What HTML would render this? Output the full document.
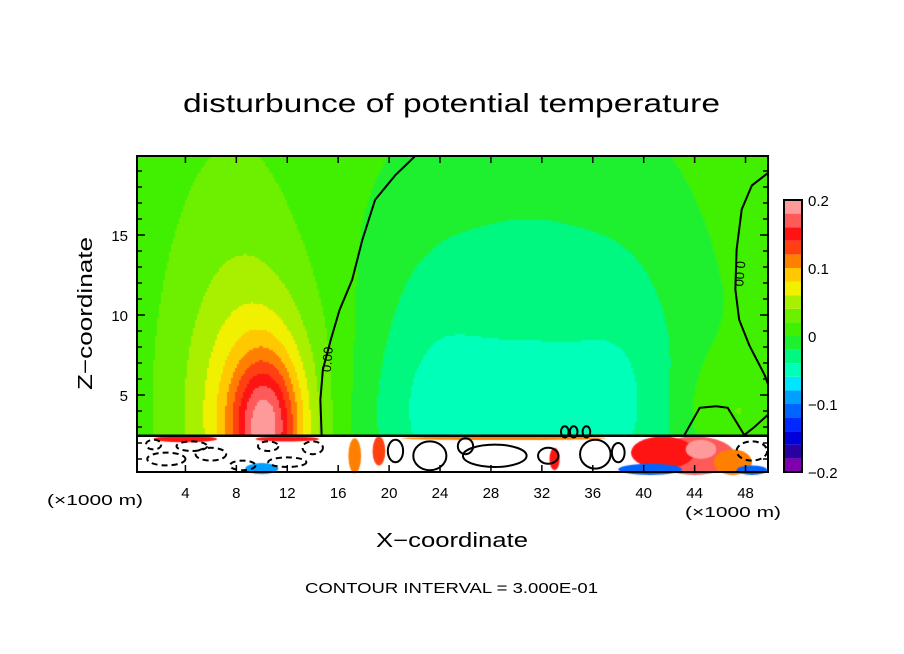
<!DOCTYPE html>
<html><head><meta charset="utf-8"><style>
html,body{margin:0;padding:0;background:#fff;width:904px;height:654px;overflow:hidden}
#wrap{position:relative;width:904px;height:654px}
canvas,svg{position:absolute;left:0;top:0}
text{font-family:"Liberation Sans",sans-serif;fill:#000}
</style></head><body>
<div id="wrap">
<canvas id="cv" width="904" height="654"></canvas>
<svg id="sv" width="904" height="654"></svg>
</div>
<script>
// ---- data ----
const levels = [-0.2,-0.18,-0.16,-0.14,-0.12,-0.1,-0.08,-0.06,-0.04,-0.02,0,0.02,0.04,0.06,0.08,0.1,0.12,0.14,0.16,0.18,0.2];
const levelColors = ["#8000b0","#2a00a0","#0000d8","#0028ff","#0064ff","#00a0ff","#00e6ff","#00ffb8","#00f880","#1ef030","#40f000","#6cf000","#a8f000","#f0f000","#ffc800","#ff8000","#ff4010","#ff1414","#ff5a5a","#ff9a9a"];
const colorbarLabels = ["0.2","0.1","0","\u22120.1","\u22120.2"];
const colorbarLabelValues = [0.2,0.1,0,-0.1,-0.2];
const baseline = 0.01;
// blobs: [x(km), z(km), amplitude, sx, sz]
const blobX = [10.3, 9.8, 8, 31, 23, 39, 29, 46.5];
const blobZ = [3, 3, 10, 6, 6, 6, 3, 4];
const blobAmp = [0.11, 0.07, 0.02, -0.045, -0.015, -0.015, -0.018, 0.022];
const blobSX = [1.8, 3.8, 4, 9, 3, 3, 9, 2.8];
const blobSZ = [3, 6, 9, 11, 6, 6, 3.5, 2.5];
const groundZ = 2.45;
// below-ground patches: [x, z, value, rx, rz]
const patchX = [44, 41.5, 47, 40.5, 10, 17.3, 19.2, 33, 4, 44.5, 48.5, 29, 12];
const patchZ = [1.2, 1.4, 0.8, 0.35, 0.4, 1.2, 1.5, 1.0, 2.25, 1.6, 0.3, 2.3, 2.25];
const patchV = [0.17, 0.14, 0.1, -0.12, -0.1, 0.1, 0.12, 0.15, 0.15, 0.19, -0.12, 0.1, 0.15];
const patchRX = [3.2, 2.5, 1.5, 2.5, 1.3, 0.5, 0.5, 0.4, 2.5, 1.2, 1.2, 8, 2.5];
const patchRZ = [1.2, 1.0, 0.8, 0.35, 0.35, 1.1, 0.9, 0.7, 0.2, 0.6, 0.3, 0.12, 0.15];
// zero contours (data units)
const c0LeftX = [22.0,20.5,18.9,17.9,17.1,16.1,15.4,14.8,14.6,14.7];
const c0LeftZ = [19.9,18.75,17.2,14.7,12.2,10.3,8.4,6.6,4.7,2.5];
const c0RightX = [49.8,48.5,47.7,47.3,47.2,47.5,48.3,49.5,49.8];
const c0RightZ = [18.9,18.1,16.6,14.1,11.6,9.7,8.1,6.25,5.6];
const c0BumpX = [43.2,44.4,45.7,46.6,47.9,48.7,49.8];
const c0BumpZ = [2.5,4.2,4.3,4.2,2.5,3.0,3.8];
// loops below ground: [x, z, rx, rz]
const loopX = [23.2, 28.3, 32.5, 36.2, 20.5, 2.5, 6, 12, 34.5, 35.5, 33.8, 4.5, 8.5, 14, 26, 38, 48.5, 1.5, 10.5];
const loopZ = [1.2, 1.2, 1.2, 1.3, 1.5, 1.0, 1.3, 0.8, 2.7, 2.7, 2.7, 1.8, 0.6, 1.7, 1.8, 1.4, 1.5, 1.9, 1.8];
const loopRX = [1.3, 2.5, 0.8, 1.2, 0.6, 1.5, 1.2, 1.5, 0.3, 0.3, 0.3, 1.2, 1.0, 0.8, 0.6, 0.5, 1.2, 0.6, 0.8];
const loopRZ = [0.9, 0.7, 0.5, 0.9, 0.7, 0.4, 0.4, 0.3, 0.35, 0.35, 0.35, 0.3, 0.3, 0.4, 0.5, 0.6, 0.6, 0.3, 0.3];
const loopDash = [0,0,0,0,0,1,1,1,0,0,0,1,1,1,0,0,1,1,1];
const xTicks = [4,8,12,16,20,24,28,32,36,40,44,48];
const zTicks = [5,10,15];

// ---- axes ----
const X0=137, X1=768, Y0=156, Y1=472;
const xScale = x => 134.5 + x*12.73;
const zScale = z => 475 - z*16;
function colorOf(v){
  if(v<levels[0]||v>=levels[levels.length-1]) return null;
  for(let i=0;i<levelColors.length;i++) if(v<levels[i+1]) return levelColors[i];
  return null;
}
function field(x,z){
  let v=baseline;
  for(let i=0;i<blobX.length;i++){
    const dx=(x-blobX[i])/blobSX[i], dz=(z-blobZ[i])/blobSZ[i];
    v+=blobAmp[i]*Math.exp(-0.5*(dx*dx+dz*dz));
  }
  return Math.max(-0.199,Math.min(0.199,v));
}
const ctx=document.getElementById('cv').getContext('2d');
const step=2;
for(let py=Y0;py<Y1;py+=step){
  for(let px=X0;px<X1;px+=step){
    const x=(px+1-134.5)/12.73, z=(475-(py+1))/16;
    if(z<groundZ) continue;
    const c=colorOf(field(x,z));
    if(c){ctx.fillStyle=c;ctx.fillRect(px,py,step,step);}
  }
}
for(let i=0;i<patchX.length;i++){
  ctx.fillStyle=colorOf(patchV[i])||'#fff';
  ctx.beginPath();
  ctx.ellipse(xScale(patchX[i]),zScale(patchZ[i]),patchRX[i]*12.73,patchRZ[i]*16,0,0,Math.PI*2);
  ctx.fill();
}
// ---- svg ----
const NS='http://www.w3.org/2000/svg', sv=document.getElementById('sv');
function el(tag,attrs,parent){const e=document.createElementNS(NS,tag);for(const k in attrs)e.setAttribute(k,attrs[k]);(parent||sv).appendChild(e);return e;}
function txt(s,attrs){const e=el('text',attrs);e.textContent=s;return e;}
const clip=el('clipPath',{id:'pc'});el('rect',{x:X0,y:Y0,width:X1-X0,height:Y1-Y0},clip);
const g=el('g',{'clip-path':'url(#pc)'});


function poly(xs,zs,name){
  const p=el('polyline',{points:xs.map((x,i)=>xScale(x)+','+zScale(zs[i])).join(' '),fill:'none',stroke:'#000','stroke-width':2},g);
  
  
}
poly(c0LeftX,c0LeftZ,'zero-contour-left');
poly(c0RightX,c0RightZ,'zero-contour-right');
poly(c0BumpX,c0BumpZ,'zero-contour-bump');
const gl=el('line',{x1:X0,x2:X1,y1:zScale(groundZ),y2:zScale(groundZ),stroke:'#000','stroke-width':2.5},g);


for(let i=0;i<loopX.length;i++){
  const e=el('ellipse',{cx:xScale(loopX[i]),cy:zScale(loopZ[i]),rx:loopRX[i]*12.73,ry:loopRZ[i]*16,fill:'none',stroke:'#000','stroke-width':2},g);
  if(loopDash[i]) e.setAttribute('stroke-dasharray','6 4');
  
  
}
const l1=txt('0.00',{x:0,y:0,'font-size':13,transform:`translate(${xScale(15.5)},${zScale(7.2)}) rotate(-85)`,'text-anchor':'middle'});


const l2=txt('0.00',{x:0,y:0,'font-size':13,transform:`translate(${xScale(47.2)},${zScale(12.6)}) rotate(95)`,'text-anchor':'middle'});


const fr=el('rect',{x:X0,y:Y0,width:X1-X0,height:Y1-Y0,fill:'none',stroke:'#000','stroke-width':2});


for(let z=1;z<=19;z++){
  const len=(z%5===0)?8:5, y=zScale(z);
  el('line',{x1:X0,x2:X0+len,y1:y,y2:y,stroke:'#000','stroke-width':1.5});
  el('line',{x1:X1,x2:X1-len,y1:y,y2:y,stroke:'#000','stroke-width':1.5});
}
xTicks.forEach(x=>{
  const px=xScale(x);
  el('line',{x1:px,x2:px,y1:Y0,y2:Y0+7,stroke:'#000','stroke-width':1.5});
  el('line',{x1:px,x2:px,y1:Y1,y2:Y1-7,stroke:'#000','stroke-width':1.5});
  const t=txt(String(x),{x:px,y:498,'font-size':15,'text-anchor':'middle'});
  
  
});
zTicks.forEach(z=>{
  const t=txt(String(z),{x:128,y:zScale(z)+6,'font-size':15,'text-anchor':'end'});
  
  
});
const CB0=200, CB1=472, CBX=784, CBW=18;
const cbScale = v => CB1 - (v-levels[0])/(levels[levels.length-1]-levels[0])*(CB1-CB0);
for(let i=0;i<levelColors.length;i++){
  const r=el('rect',{x:CBX,y:cbScale(levels[i+1]),width:CBW,height:cbScale(levels[i])-cbScale(levels[i+1]),fill:levelColors[i]});
  
  
}
const cbf=el('rect',{x:CBX,y:CB0,width:CBW,height:CB1-CB0,fill:'none',stroke:'#000','stroke-width':2});


colorbarLabels.forEach((s,i)=>{
  const t=txt(s,{x:808,y:cbScale(colorbarLabelValues[i])+6,'font-size':15});
  
  
});
</script>
<svg width="904" height="654" style="position:absolute;left:0;top:0;pointer-events:none">
<text x="183" y="112" font-size="26" textLength="537" lengthAdjust="spacingAndGlyphs">disturbunce of potential temperature</text>
<text x="0" y="0" font-size="20" textLength="153" lengthAdjust="spacingAndGlyphs" transform="translate(92,390) rotate(-90)">Z−coordinate</text>
<text x="376" y="547" font-size="20" textLength="152" lengthAdjust="spacingAndGlyphs">X−coordinate</text>
<text x="47" y="505" font-size="15" textLength="96" lengthAdjust="spacingAndGlyphs">(×1000 m)</text>
<text x="685" y="517" font-size="15" textLength="96" lengthAdjust="spacingAndGlyphs">(×1000 m)</text>
<text x="305" y="593" font-size="15" textLength="293" lengthAdjust="spacingAndGlyphs">CONTOUR INTERVAL = 3.000E-01</text>
</svg>
</body></html>
